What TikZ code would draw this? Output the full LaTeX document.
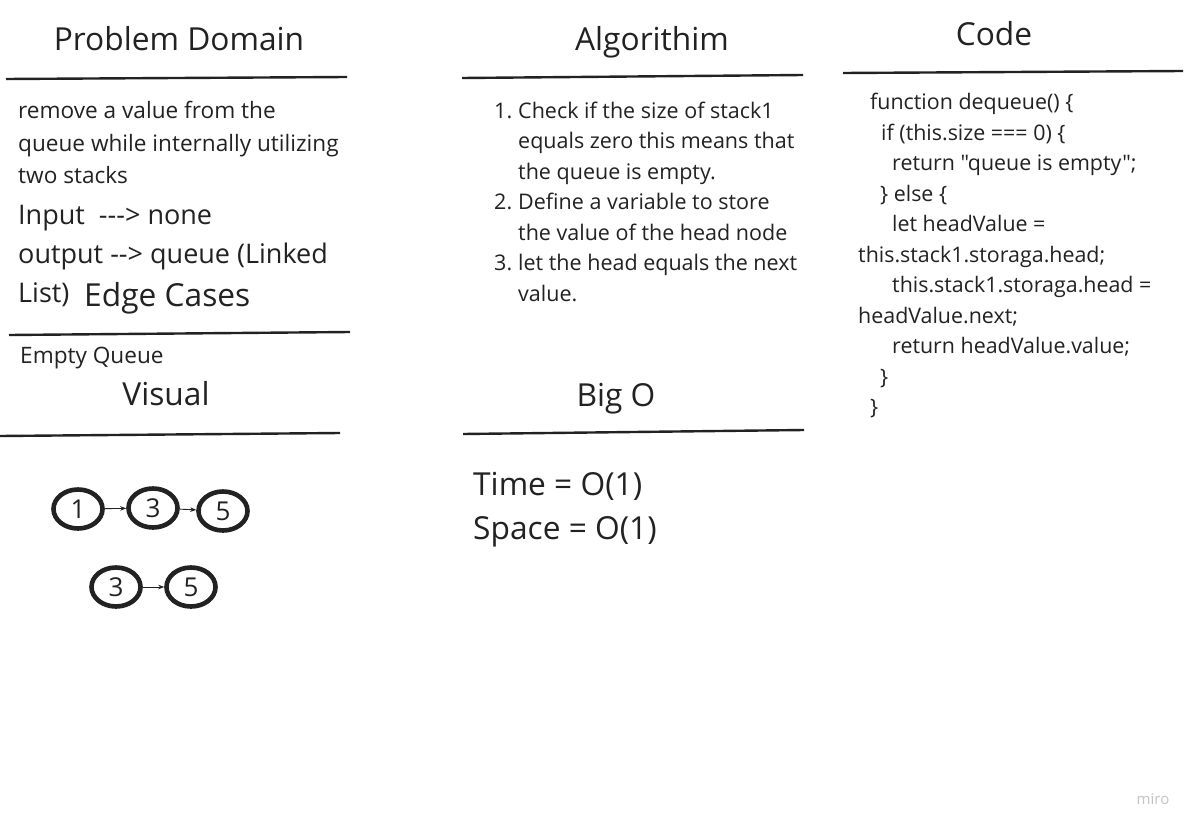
\documentclass[tikz,border=0pt]{standalone}
\usepackage{fontspec}
\setmainfont{Open Sans}[Ligatures=TeXOff]
\usetikzlibrary{shapes.geometric,arrows.meta}
\definecolor{ink}{HTML}{222222}
\definecolor{mirogray}{HTML}{C4C4C4}
\tikzset{
  rule/.style={line width=2.4pt, ink},
  head/.style={font=\fontsize{31.7}{38}\selectfont, text=ink, inner sep=0pt, anchor=base},
  body/.style={font=\fontsize{22.6}{26}\selectfont, text=ink, inner sep=0pt, anchor=base west},
  big/.style={font=\fontsize{27}{30}\selectfont, text=ink, inner sep=0pt, anchor=base west},
  algo/.style={font=\fontsize{21.5}{24}\selectfont, text=ink, inner sep=0pt, anchor=base west},
  codeline/.style={font=\fontsize{21.4}{24}\selectfont, text=ink, inner sep=0pt, anchor=base west},
  bigo/.style={font=\fontsize{31.7}{36}\selectfont, text=ink, inner sep=0pt, anchor=base west},
  lnode/.style={ellipse, draw=ink, line width=4.6pt, minimum width=49pt, minimum height=39pt, inner sep=0pt, font=\fontsize{26}{28}\selectfont, text=ink},
  arr/.style={-{Stealth[length=6pt,width=4.5pt]}, line width=0.9pt, ink}
}
\begin{document}
\begin{tikzpicture}[x=1pt,y=-1pt]
\useasboundingbox[fill=white] (0,0) rectangle (1201,832);
% headers
\node[head] (hPD) at (179,51) {Problem Domain};
\node[head] (hAl) at (652,51) {Algorithim};
\node[head] (hCo) at (994,46) {Code};
\node[head,anchor=base west] (hEC) at (84,306) {Edge Cases};
\node[head] (hVi) at (166,405) {Visual};
\node[head] (hBO) at (616,406) {Big O};
% rules
\draw[rule] (6,79) -- (347,77);
\draw[rule] (462,78) -- (803,75);
\draw[rule] (843,73) -- (1183,71);
\draw[rule] (9,335) -- (350,332);
\draw[rule] (0,436) -- (340,433);
\draw[rule] (463,434) -- (804,430);
% problem domain
\node[body] (p1) at (18,118.5) {remove a value from the};
\node[body] (p2) at (18,151) {queue while internally utilizing};
\node[body] (p3) at (18,183.5) {two stacks};
\node[big] (p4) at (18,224) {Input\ \ ---> none};
\node[big] (p5) at (18,263) {output --> queue (Linked};
\node[big] (p6) at (18,302) {List)};
\node[body] (ec) at (20,363) {Empty Queue};
% algorithm
\node[algo] (a1n) at (494,118) {1.};
\node[algo] (a1) at (518,118) {Check if the size of stack1};
\node[algo] (a1b) at (518,148.5) {equals zero this means that};
\node[algo] (a1c) at (518,179) {the queue is empty.};
\node[algo] (a2n) at (494,209.5) {2.};
\node[algo] (a2) at (518,209.5) {Define a variable to store};
\node[algo] (a2b) at (518,240) {the value of the head node};
\node[algo] (a3n) at (494,270.5) {3.};
\node[algo] (a3) at (518,270.5) {let the head equals the next};
\node[algo] (a3b) at (518,301) {value.};
% code
\node[codeline] (c1) at (870,109.5) {function dequeue() \{};
\node[codeline] (c2) at (881,140) {if (this.size === 0) \{};
\node[codeline] (c3) at (892,170.5) {return "queue is empty";};
\node[codeline] (c4) at (880,201) {\} else \{};
\node[codeline] (c5) at (892,231.5) {let headValue =};
\node[codeline] (c6) at (858,262) {this.stack1.storaga.head;};
\node[codeline] (c7) at (892,292.5) {this.stack1.storaga.head =};
\node[codeline] (c8) at (858,323) {headValue.next;};
\node[codeline] (c9) at (892,353.5) {return headValue.value;};
\node[codeline] (c10) at (880,384) {\}};
\node[codeline] (c11) at (870,414.5) {\}};
% big O
\node[bigo] (t) at (473,495) {Time = O(1)};
\node[bigo] (s) at (473,539) {Space = O(1)};
% visual
\node[lnode] (n1) at (78,509) {1};
\node[lnode] (n3) at (153,508) {3};
\node[lnode] (n5) at (223,511) {5};
\node[lnode] (m3) at (116,587) {3};
\node[lnode] (m5) at (191,587) {5};
\draw[arr] (n1) -- (n3);
\draw[arr] (n3) -- (n5);
\draw[arr] (m3) -- (m5);
% watermark
\node[font=\fontsize{15}{17}\selectfont, text=mirogray, inner sep=0pt] (miro) at (1153,799) {miro};
\end{tikzpicture}
\end{document}
